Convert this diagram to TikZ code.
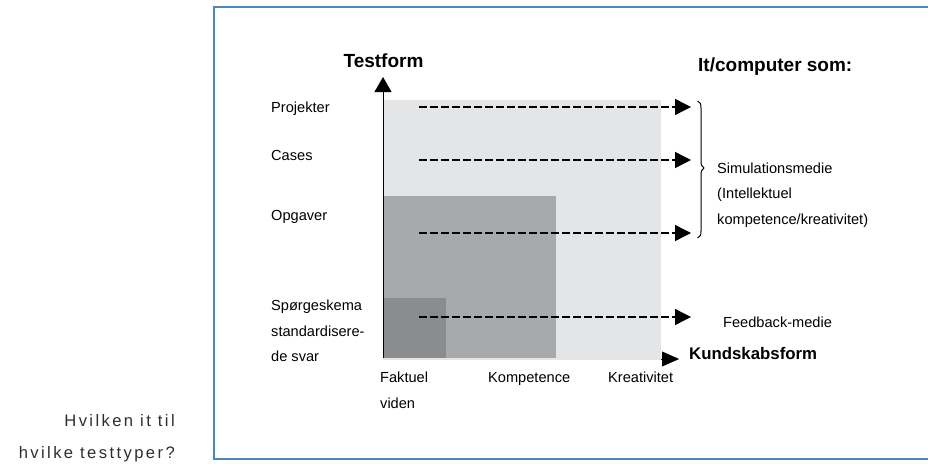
\documentclass[tikz,border=0pt]{standalone}
\usepackage{fontspec}
\setmainfont{Liberation Sans}
\newfontfamily\spacedfont[LetterSpace=14.5]{Liberation Sans}
\usetikzlibrary{arrows.meta}
\definecolor{frameblue}{HTML}{4A86C0}
\definecolor{lightg}{HTML}{E4E5E7}
\definecolor{midg}{HTML}{A8A9AB}
\definecolor{darkg}{HTML}{8B8C8E}
\tikzset{
  lbl/.style={inner sep=0pt, anchor=base west, font=\fontsize{14.6}{17}\selectfont},
  ttl/.style={inner sep=0pt, anchor=base west, font=\fontsize{19}{22}\selectfont\bfseries},
  side/.style={inner sep=0pt, anchor=base east, text=black!82, font=\spacedfont\fontsize{16.6}{19}\selectfont},
  dasharrow/.style={line width=1.4pt, dash pattern=on 7.5pt off 3.5pt, -{Triangle[length=16pt,width=16pt]}},
  axisarrow/.style={line width=1pt, -{Triangle[length=15pt,width=17pt]}}
}
\begin{document}
\begin{tikzpicture}[x=1pt,y=-1pt]
\useasboundingbox (0,0) rectangle (928,463);
% frame
\draw[frameblue, line width=1.5pt] (940,7) -- (214,7) -- (214,459) -- (940,459);
% regions
\fill[lightg] (383,100) rectangle (661,360);
\fill[midg] (383,196) rectangle (556,358);
\fill[darkg] (383,298) rectangle (446,358);
% axes
\coordinate (o) at (383,358);
\coordinate (ytop) at (383,77);
\draw[axisarrow] (o) -- (ytop);
\coordinate (xs) at (661,359);
\coordinate (xe) at (679,359);
\draw[line width=0.4pt, -{Triangle[length=17pt,width=15pt]}] (xs) -- (xe);
% dashed arrows
\coordinate (s1) at (419,107); \coordinate (e1) at (691,107);
\coordinate (s2) at (419,160); \coordinate (e2) at (691,160);
\coordinate (s3) at (419,233); \coordinate (e3) at (691,233);
\coordinate (s4) at (419,317); \coordinate (e4) at (691,317);
\draw[dasharrow] (s1) -- (e1);
\draw[dasharrow] (s2) -- (e2);
\draw[dasharrow] (s3) -- (e3);
\draw[dasharrow] (s4) -- (e4);
% brace
\draw[line width=1pt] (697.5,101) .. controls (700.5,102) and (701,104) .. (701,108)
  -- (701,161) .. controls (701,165) and (702,167) .. (704,168)
  .. controls (702,169) and (701,171) .. (701,175)
  -- (701,231) .. controls (701,235) and (700.5,237) .. (697.5,238);
% titles
\node[ttl, anchor=base] (testform) at (383.5,67.7) {Testform};
\node[ttl] (itcomp) at (698,71) {It/computer som:};
\node[inner sep=0pt, anchor=base west, font=\fontsize{16.8}{20}\selectfont\bfseries] (kund) at (689,359.3) {Kundskabsform};
% left labels
\node[lbl] (proj) at (271,112.3) {Projekter};
\node[lbl] (cases) at (271,160) {Cases};
\node[lbl] (opg) at (271,220) {Opgaver};
\node[lbl] (sp1) at (271,310.7) {Spørgeskema};
\node[lbl] (sp2) at (271,336) {standardisere-};
\node[lbl] (sp3) at (271,361.7) {de svar};
% bottom labels
\node[lbl] (fak1) at (380,382.7) {Faktuel};
\node[lbl] (fak2) at (380,408.7) {viden};
\node[lbl] (komp) at (488,382.7) {Kompetence};
\node[lbl] (krea) at (608,382.7) {Kreativitet};
% right labels
\node[lbl] (sim1) at (717,173.3) {Simulationsmedie};
\node[lbl] (sim2) at (717,198.3) {(Intellektuel};
\node[lbl] (sim3) at (717,224.5) {kompetence/kreativitet)};
\node[lbl] (feed) at (723,327.3) {Feedback-medie};
% side question
\node[side] (q1) at (175,426.7) {Hvilken it til};
\node[side] (q2) at (175,458.5) {hvilke testtyper?};
\end{tikzpicture}
\end{document}
